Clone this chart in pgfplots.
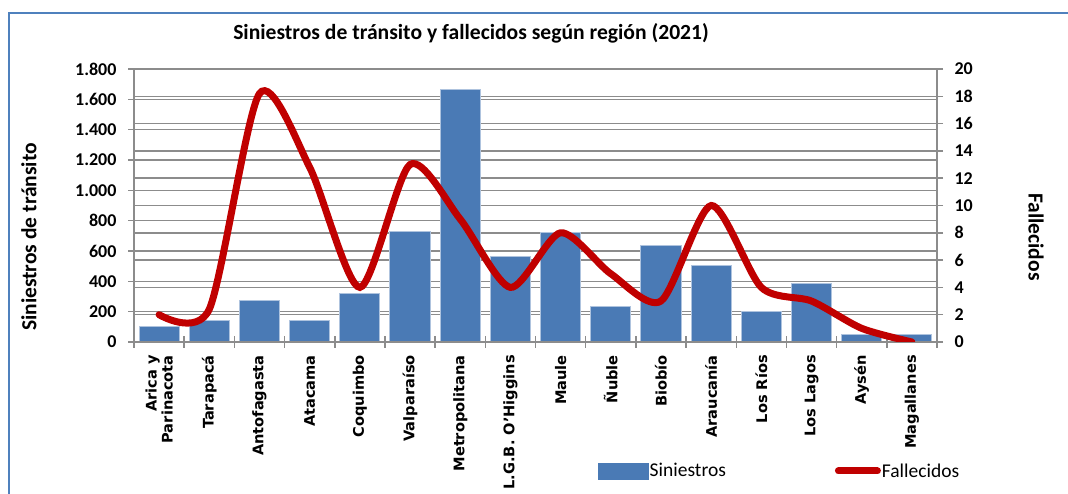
\documentclass[border=0pt]{standalone}
\usepackage{pgfplots}
\pgfplotsset{compat=1.18}
\usepackage{fontspec}
\setmainfont{Carlito}
\newfontfamily\dvs{DejaVu Sans}
\definecolor{barblue}{HTML}{4A7AB5}
\definecolor{linered}{HTML}{C00000}
\definecolor{gridgray}{HTML}{8C8C8C}
\definecolor{frameblue}{HTML}{4F81BD}
\begin{document}
\begin{tikzpicture}[x=1pt,y=1pt]
\useasboundingbox (0,0) rectangle (1068,494);
\draw[frameblue, line width=2.5pt] (9,-5) -- (9,481) -- (1075,481);
\node[font=\bfseries\fontsize{21.6}{21.6}\selectfont] at (471,461) {Siniestros de tránsito y fallecidos según región (2021)};
\node[font=\bfseries\fontsize{21.5}{21.5}\selectfont, rotate=90] at (29,257) {Siniestros de tránsito};
\node[font=\bfseries\fontsize{21.5}{21.5}\selectfont, rotate=-90] at (1036,257) {Fallecidos};
\begin{axis}[
  at={(134pt,152pt)}, anchor=south west, scale only axis,
  width=803pt, height=273pt,
  xmin=-0.5, xmax=15.5, ymin=0, ymax=1800,
  axis x line*=bottom, axis y line*=left,
  axis line style={gridgray, line width=1.5pt, -},
  ytick={0,200,...,1800},
  yticklabel={\bfseries\pgfmathprintnumber[1000 sep={.},assume math mode=true]{\tick}},
  extra y ticks={180,360,540,720,900,1080,1260,1440,1620},
  extra y tick labels={},
  extra y tick style={grid=major, major tick length=0pt},
  ymajorgrids,
  grid style={gridgray, line width=1.5pt},
  tick style={gridgray, line width=1.5pt},
  tick align=center, major tick length=12pt,
  xtick style={draw=none},
  xtick={0,...,15},
  xticklabels={{Arica y\\Parinacota},Tarapacá,Antofagasta,Atacama,Coquimbo,Valparaíso,Metropolitana,{L.G.B. O’Higgins},Maule,Ñuble,Biobío,Araucanía,Los Ríos,Los Lagos,Aysén,Magallanes},
  xticklabel style={rotate=90, anchor=east, align=right, font=\dvs\bfseries\fontsize{14.6}{16}\selectfont, inner sep=0pt, xshift=-7pt},
  yticklabel style={font=\bfseries\fontsize{18}{18}\selectfont, text=black, xshift=-8pt},
]
\addplot[ybar, bar width=0.8, fill=barblue, draw=white!55!barblue, line width=1pt]
  coordinates {(0,105) (1,143) (2,271) (3,139) (4,323) (5,726) (6,1665) (7,561) (8,722) (9,231) (10,638) (11,506) (12,198) (13,383) (14,48) (15,50)};
\end{axis}
\begin{axis}[
  at={(134pt,152pt)}, anchor=south west, scale only axis,
  width=803pt, height=273pt,
  xmin=-0.5, xmax=15.5, ymin=0, ymax=20,
  axis x line*=bottom, axis y line*=right,
  axis line style={gridgray, line width=1.5pt, -},
  xtick={-0.5,0.5,...,15.5}, xticklabels={},
  ytick={0,2,...,20},
  yticklabel={\bfseries\pgfmathprintnumber[assume math mode=true]{\tick}},
  tick style={gridgray, line width=1.5pt},
  tick align=center, major tick length=12pt,
  yticklabel style={font=\bfseries\fontsize{18}{18}\selectfont, text=black, xshift=8pt},
  legend style={at={(axis description cs:0.578,-0.4725)}, anchor=west, draw=none, fill=none, inner sep=0pt,
    font=\fontsize{19.5}{19.5}\selectfont, nodes={inner xsep=1pt}},
  legend columns=2,
  legend cell align=left,
  /tikz/every even column/.append style={column sep=108pt},
]
\addlegendimage{legend image code/.code={\fill[barblue] (0pt,-8pt) rectangle (50pt,8pt);}}
\addlegendentry{Siniestros}
\addplot[linered, line width=7pt, smooth, tension=0.45, line cap=round,
  legend image code/.code={\draw[linered, line width=7pt, line cap=round] (3pt,0pt) -- (42pt,0pt);}]
  coordinates {(0,2) (1,2.4) (2,18.2) (3,12.8) (4,4) (5,13) (6,9) (7,4) (8,8) (9,5) (10,3) (11,10) (12,4) (13,3) (14,1) (15,0)};
\addlegendentry{Fallecidos}
\end{axis}
\end{tikzpicture}
\end{document}
